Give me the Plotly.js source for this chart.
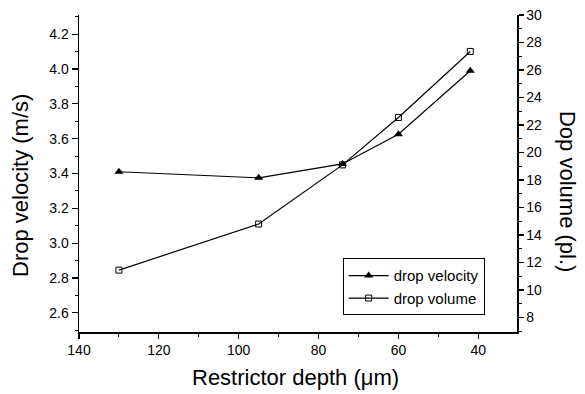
<!DOCTYPE html>
<html>
<head>
<meta charset="utf-8">
<script src="https://cdn.plot.ly/plotly-3.0.1.min.js"></script>
<style>
html,body{margin:0;padding:0;background:#fff;}
#chart{width:585px;height:394px;}
</style>
</head>
<body>
<div id="chart"></div>
<script>
// Data
var depth = [130, 95, 74, 60, 42];               // Restrictor depth (µm)
var velocity = [3.41, 3.375, 3.455, 3.625, 3.99]; // Drop velocity (m/s)
var volume = [11.45, 14.8, 19.1, 22.55, 27.35];   // Drop volume (pl.)

var seriesNames = ['drop velocity', 'drop volume'];
var xTitle = 'Restrictor depth (\u03bcm)';
var yTitle = 'Drop velocity (m/s)';
var y2Title = 'Dop volume (pl.)';

var FONT = '"Liberation Sans", Arial, sans-serif';

var traces = [
  {
    x: depth, y: velocity, name: seriesNames[0],
    type: 'scatter', mode: 'lines+markers',
    xaxis: 'x', yaxis: 'y',
    line: {color: '#000', width: 1.2},
    marker: {symbol: 'triangle-up', size: 8, color: '#000'}
  },
  {
    x: depth, y: volume, name: seriesNames[1],
    type: 'scatter', mode: 'lines+markers',
    xaxis: 'x', yaxis: 'y2',
    line: {color: '#000', width: 1.2},
    marker: {symbol: 'square-open', size: 6, color: '#000', line: {width: 1, color: '#000'}}
  }
];

var axisCommon = {
  showgrid: false, zeroline: false, showline: true,
  linecolor: '#000', linewidth: 1.5,
  tickcolor: '#000', tickwidth: 1.2,
  tickfont: {family: FONT, size: 14, color: '#000'}
};

var layout = {
  width: 585, height: 394,
  margin: {l: 79, r: 68, t: 15, b: 62},
  paper_bgcolor: '#fff', plot_bgcolor: '#fff',
  font: {family: FONT, color: '#000'},
  showlegend: true,
  legend: {
    x: 0.602, y: 0.2325, xanchor: 'left', yanchor: 'top',
    bordercolor: '#000', borderwidth: 1, bgcolor: '#fff',
    font: {family: FONT, size: 15, color: '#000'},
    itemwidth: 40, tracegroupgap: 0
  },
  xaxis: Object.assign({}, axisCommon, {
    range: [140, 30.3], tickmode: 'linear', tick0: 40, dtick: 20,
    ticks: 'outside', ticklen: 5,
    minor: {ticks: 'outside', ticklen: 3, dtick: 10, tick0: 30, tickcolor: '#000', tickwidth: 1},
    anchor: 'y'
  }),
  xaxis2: Object.assign({}, axisCommon, {
    range: [140, 30.3], overlaying: 'x', side: 'top', anchor: 'y',
    tickmode: 'linear', tick0: 40, dtick: 20,
    ticks: 'inside', ticklen: 7, showticklabels: false,
    minor: {ticks: 'inside', ticklen: 4, dtick: 10, tick0: 30, tickcolor: '#000', tickwidth: 1}
  }),
  yaxis: Object.assign({}, axisCommon, {
    range: [2.49, 4.31], tickmode: 'linear', tick0: 2.6, dtick: 0.2,
    tickformat: '.1f',
    ticks: 'outside', ticklen: 6,
    minor: {ticks: 'outside', ticklen: 3, dtick: 0.1, tick0: 2.5, tickcolor: '#000', tickwidth: 1},
    anchor: 'x'
  }),
  yaxis2: Object.assign({}, axisCommon, {
    range: [6.95, 30], overlaying: 'y', side: 'right', anchor: 'x',
    tickmode: 'linear', tick0: 8, dtick: 2,
    ticks: 'outside', ticklen: 5,
    minor: {ticks: 'outside', ticklen: 3, dtick: 1, tick0: 7, tickcolor: '#000', tickwidth: 1}
  }),
  annotations: [
    {text: xTitle, xref: 'paper', yref: 'paper', x: 0.4932, y: -0.145,
     xanchor: 'center', yanchor: 'middle', showarrow: false,
     font: {family: FONT, size: 22, color: '#000'}},
    {text: yTitle, xref: 'paper', yref: 'paper', x: -0.1324, y: 0.4606,
     xanchor: 'center', yanchor: 'middle', showarrow: false, textangle: -90,
     font: {family: FONT, size: 22, color: '#000'}},
    {text: y2Title, xref: 'paper', yref: 'paper', x: 1.1142, y: 0.4448,
     xanchor: 'center', yanchor: 'middle', showarrow: false, textangle: 90,
     font: {family: FONT, size: 22, color: '#000'}}
  ]
};

Plotly.newPlot('chart', traces, layout, {displayModeBar: false, staticPlot: true});
</script>
</body>
</html>
